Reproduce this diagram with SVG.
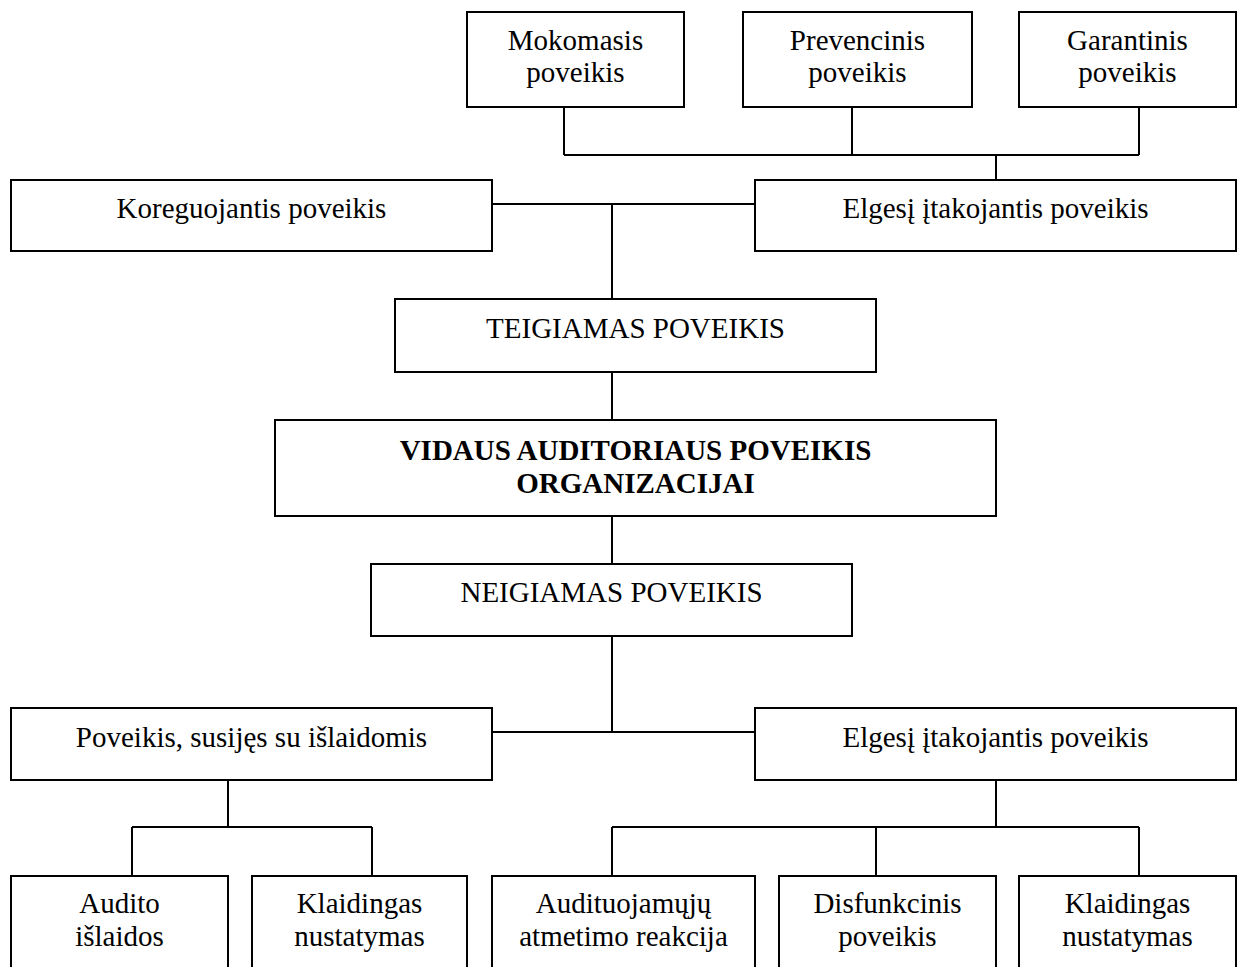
<svg xmlns="http://www.w3.org/2000/svg" width="1240" height="967" viewBox="0 0 1240 967">
<style>
.box{fill:#fff;stroke:#000;stroke-width:2}
.ln{fill:none;stroke:#000;stroke-width:2}
text{font-family:"Liberation Serif","Times New Roman",serif;font-size:29px;fill:#000;text-anchor:middle}
.b{font-weight:bold}
</style>
<rect width="1240" height="967" fill="#fff"/>
<g id="connectors" class="ln">
<path d="M564,107V155M852,107V155M1139,107V155M564,155H1139M996,155V180"/>
<path d="M492,204H755M612,204V299"/>
<path d="M612,372V420M612,516V564M612,636V732M492,732H755"/>
<path d="M228,780V827M132,827H372M132,827V876M372,827V876"/>
<path d="M996,780V827M612,827H1139M612,827V876M876,827V876M1139,827V876"/>
</g>
<g id="n-mokomasis"><rect class="box" x="467" y="12" width="217" height="95"/><text x="575.5" y="50">Mokomasis</text><text x="575.5" y="82">poveikis</text></g>
<g id="n-prevencinis"><rect class="box" x="743" y="12" width="229" height="95"/><text x="857.5" y="50">Prevencinis</text><text x="857.5" y="82">poveikis</text></g>
<g id="n-garantinis"><rect class="box" x="1019" y="12" width="217" height="95"/><text x="1127.5" y="50">Garantinis</text><text x="1127.5" y="82">poveikis</text></g>
<g id="n-koreguojantis"><rect class="box" x="11" y="180" width="481" height="71"/><text x="251.5" y="218">Koreguojantis poveikis</text></g>
<g id="n-elgesi1"><rect class="box" x="755" y="180" width="481" height="71"/><text x="995.5" y="218">Elgesį įtakojantis poveikis</text></g>
<g id="n-teigiamas"><rect class="box" x="395" y="299" width="481" height="73"/><text x="635.5" y="338">TEIGIAMAS POVEIKIS</text></g>
<g id="n-vidaus"><rect class="box" x="275" y="420" width="721" height="96"/><text class="b" x="635.5" y="460">VIDAUS AUDITORIAUS POVEIKIS</text><text class="b" x="635.5" y="493">ORGANIZACIJAI</text></g>
<g id="n-neigiamas"><rect class="box" x="371" y="564" width="481" height="72"/><text x="611.5" y="602">NEIGIAMAS POVEIKIS</text></g>
<g id="n-islaidos"><rect class="box" x="11" y="708" width="481" height="72"/><text x="251.5" y="747">Poveikis, susijęs su išlaidomis</text></g>
<g id="n-elgesi2"><rect class="box" x="755" y="708" width="481" height="72"/><text x="995.5" y="747">Elgesį įtakojantis poveikis</text></g>
<g id="n-audito"><rect class="box" x="11" y="876" width="217" height="120"/><text x="119.5" y="913">Audito</text><text x="119.5" y="946">išlaidos</text></g>
<g id="n-klaidingas1"><rect class="box" x="252" y="876" width="215" height="120"/><text x="359.5" y="913">Klaidingas</text><text x="359.5" y="946">nustatymas</text></g>
<g id="n-audituojamuju"><rect class="box" x="492" y="876" width="263" height="120"/><text x="623.5" y="913">Audituojamųjų</text><text x="623.5" y="946">atmetimo reakcija</text></g>
<g id="n-disfunkcinis"><rect class="box" x="779" y="876" width="217" height="120"/><text x="887.5" y="913">Disfunkcinis</text><text x="887.5" y="946">poveikis</text></g>
<g id="n-klaidingas2"><rect class="box" x="1019" y="876" width="217" height="120"/><text x="1127.5" y="913">Klaidingas</text><text x="1127.5" y="946">nustatymas</text></g>
</svg>
